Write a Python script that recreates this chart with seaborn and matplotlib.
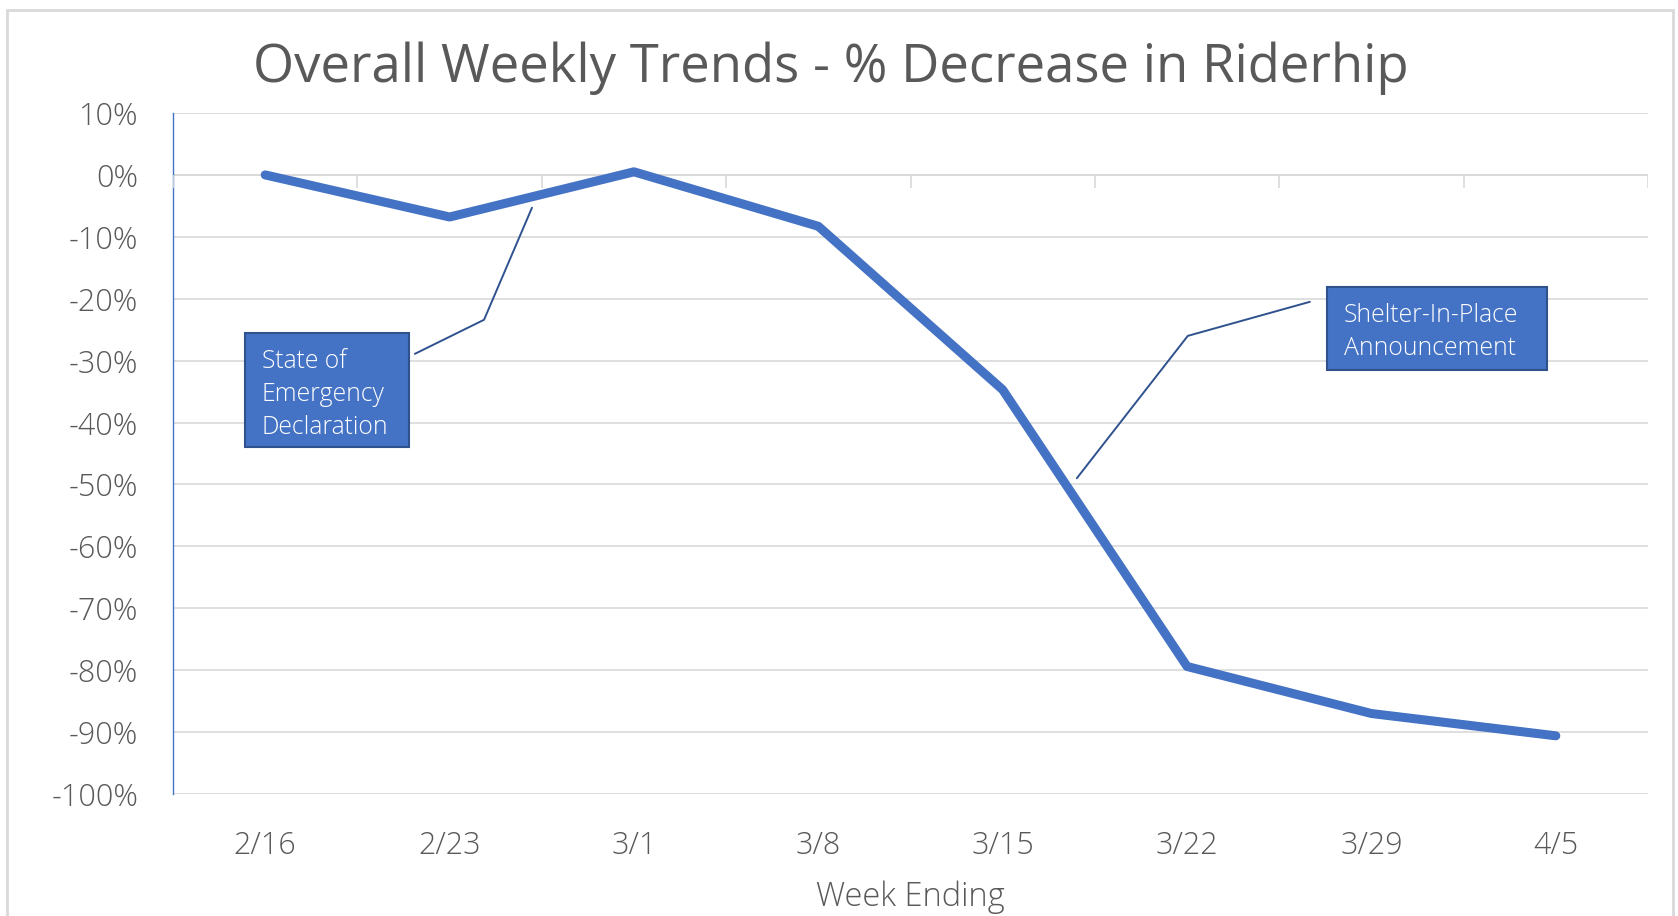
import matplotlib
matplotlib.use('Agg')
import matplotlib.pyplot as plt
from matplotlib.patches import Rectangle
import seaborn as sns
import pandas as pd

weeks = ['2/16', '2/23', '3/1', '3/8', '3/15', '3/22', '3/29', '4/5']
pct_change = [0.0, -6.8, 0.5, -8.3, -34.7, -79.4, -87.0, -90.6]
y_ticks = [10, 0, -10, -20, -30, -40, -50, -60, -70, -80, -90, -100]

title = 'Overall Weekly Trends - % Decrease in Riderhip'
x_label = 'Week Ending'
note_emergency = 'State of\nEmergency\nDeclaration'
note_shelter = 'Shelter-In-Place\nAnnouncement'

blue = '#4472C4'
dark_blue = '#2F528F'
grey_txt = '#595959'
grid_col = '#D9D9D9'

sns.set_style('white')
plt.rcParams['font.family'] = ['Open Sans', 'DejaVu Sans']

df = pd.DataFrame({'week': weeks, 'pct': pct_change})

fig = plt.figure(figsize=(16.78, 9.16), dpi=100)
ax = fig.add_axes([173 / 1678, 1 - 794 / 916, 1475 / 1678, 681 / 916])

sns.lineplot(data=df, x='week', y='pct', sort=False, color=blue, linewidth=6.5,
             solid_capstyle='round', solid_joinstyle='round', ax=ax, zorder=4)

ax.set_xlim(-0.5, len(weeks) - 0.5)
ax.set_ylim(-100, 10)
ax.set_yticks(y_ticks)
ax.set_yticklabels([f'{v}%' for v in y_ticks])
ax.yaxis.grid(True, color=grid_col, linewidth=1.2)
ax.xaxis.grid(False)
ax.set_axisbelow(True)
ax.tick_params(axis='y', length=0, pad=25, labelsize=22, labelcolor=grey_txt)
ax.tick_params(axis='x', length=0, pad=26, labelsize=22, labelcolor=grey_txt)
for lab in ax.get_xticklabels() + ax.get_yticklabels():
    lab.set_fontweight('light')

for s in ['top', 'right', 'bottom']:
    ax.spines[s].set_visible(False)
ax.spines['left'].set_color(blue)
ax.spines['left'].set_linewidth(1.0)

# category axis drawn at 0 with boundary ticks
ax.axhline(0, color=grid_col, linewidth=1.2, zorder=1)
bounds = [i - 0.5 for i in range(len(weeks) + 1)]
ax.vlines(bounds, -2.1, 0, color=grid_col, linewidth=1.2, zorder=3)

ax.set_xlabel(x_label, fontsize=23.5, color=grey_txt, labelpad=13.5, fontweight='light')
ax.set_ylabel('')

fig.text(831 / 1678, 1 - 68 / 916, title, ha='center', va='center',
         fontsize=38, color=grey_txt)

# callouts
ax.plot([0.812, 1.187, 1.447], [-28.9, -23.4, -5.3], color=dark_blue, linewidth=1.4, zorder=5)
ax.add_patch(Rectangle((-0.11, -43.9), 0.89, 18.4, facecolor=blue,
                       edgecolor=dark_blue, linewidth=1.5, zorder=6))
ax.text(-0.02, -35.4, note_emergency, ha='left', va='center', color='white',
        fontsize=17.8, linespacing=1.42, fontweight='light', zorder=7)

ax.plot([5.666, 5.004, 4.402], [-20.5, -26.0, -49.0], color=dark_blue, linewidth=1.4, zorder=5)
ax.add_patch(Rectangle((5.758, -31.5), 1.193, 13.4, facecolor=blue,
                       edgecolor=dark_blue, linewidth=1.5, zorder=6))
ax.text(5.85, -25.4, note_shelter, ha='left', va='center', color='white',
        fontsize=17.8, linespacing=1.42, fontweight='light', zorder=7)

# outer chart border
fig.patches.append(Rectangle((7 / 1678, -0.05), 1666 / 1678, 1.05 - 10 / 916,
                             transform=fig.transFigure, fill=False,
                             edgecolor=grid_col, linewidth=2))

fig.savefig('out.png', dpi=100)
